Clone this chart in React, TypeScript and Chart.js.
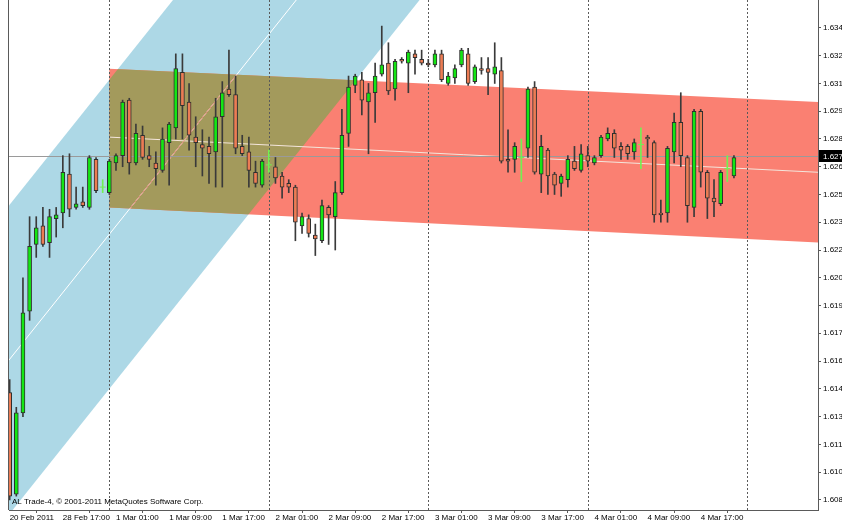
import React, { useEffect, useRef } from 'react';
import { Chart, registerables } from 'chart.js';
Chart.register(...registerables);

// Hourly GBP bars (H1), index 0 = first visible bar
const opens = [
  1.6143, 1.6088, 1.6132, 1.6187, 1.6223, 1.6233, 1.6224, 1.6237, 1.6240, 1.6261,
  1.6243, 1.6246, 1.6243, 1.6269, 1.6254, 1.6251, 1.6267, 1.6271, 1.6301, 1.6267,
  1.6282, 1.6271, 1.6267, 1.6263, 1.6278, 1.6286, 1.6316, 1.6300, 1.6281, 1.6277,
  1.6276, 1.6273, 1.6292, 1.6307, 1.6304, 1.6276, 1.6273, 1.6262, 1.6255, 1.6266,
  1.6265, 1.6260, 1.6256, 1.6254, 1.6233, 1.6237, 1.6228, 1.6225, 1.6243, 1.6238,
  1.6251, 1.6283, 1.6309, 1.6312, 1.6300, 1.6305, 1.6315, 1.6321, 1.6307, 1.6323,
  1.6321, 1.6326, 1.6323, 1.6321, 1.6320, 1.6326, 1.6310, 1.6313, 1.6320, 1.6326,
  1.6311, 1.6318, 1.6318, 1.6315, 1.6317, 1.6269, 1.6269, 1.6270, 1.6275, 1.6308,
  1.6261, 1.6274, 1.6261, 1.6256, 1.6258, 1.6268, 1.6263, 1.6271, 1.6267, 1.6271,
  1.6280, 1.6283, 1.6276, 1.6276, 1.6273, 1.6277, 1.6281, 1.6278, 1.6240, 1.6240,
  1.6273, 1.6289, 1.6270, 1.6243, 1.6295, 1.6262, 1.6248, 1.6245, 1.6264, 1.6260,
];
const highs = [
  1.6150, 1.6135, 1.6205, 1.6238, 1.6238, 1.6243, 1.6242, 1.6243, 1.6271, 1.6272,
  1.6254, 1.6254, 1.6271, 1.6270, 1.6258, 1.6269, 1.6272, 1.6301, 1.6302, 1.6288,
  1.6287, 1.6276, 1.6273, 1.6286, 1.6289, 1.6326, 1.6326, 1.6310, 1.6292, 1.6285,
  1.6281, 1.6302, 1.6311, 1.6328, 1.6314, 1.6282, 1.6281, 1.6268, 1.6269, 1.6274,
  1.6270, 1.6262, 1.6258, 1.6255, 1.6240, 1.6239, 1.6234, 1.6247, 1.6244, 1.6257,
  1.6296, 1.6314, 1.6315, 1.6316, 1.6310, 1.6321, 1.6341, 1.6332, 1.6323, 1.6324,
  1.6328, 1.6328, 1.6328, 1.6323, 1.6328, 1.6328, 1.6316, 1.6320, 1.6329, 1.6329,
  1.6320, 1.6324, 1.6324, 1.6332, 1.6324, 1.6285, 1.6278, 1.6280, 1.6308, 1.6311,
  1.6282, 1.6275, 1.6262, 1.6261, 1.6271, 1.6276, 1.6277, 1.6276, 1.6271, 1.6282,
  1.6286, 1.6285, 1.6278, 1.6277, 1.6280, 1.6286, 1.6282, 1.6279, 1.6247, 1.6276,
  1.6294, 1.6305, 1.6271, 1.6296, 1.6296, 1.6263, 1.6258, 1.6263, 1.6271, 1.6271,
];
const lows = [
  1.6085, 1.6087, 1.6130, 1.6182, 1.6216, 1.6222, 1.6216, 1.6227, 1.6232, 1.6238,
  1.6242, 1.6243, 1.6242, 1.6251, 1.6251, 1.6250, 1.6263, 1.6265, 1.6261, 1.6266,
  1.6269, 1.6265, 1.6255, 1.6262, 1.6255, 1.6280, 1.6280, 1.6274, 1.6265, 1.6260,
  1.6256, 1.6254, 1.6254, 1.6303, 1.6272, 1.6271, 1.6254, 1.6254, 1.6254, 1.6262,
  1.6256, 1.6248, 1.6251, 1.6225, 1.6229, 1.6227, 1.6217, 1.6224, 1.6223, 1.6220,
  1.6250, 1.6276, 1.6305, 1.6293, 1.6272, 1.6289, 1.6314, 1.6304, 1.6301, 1.6321,
  1.6305, 1.6315, 1.6320, 1.6319, 1.6319, 1.6311, 1.6309, 1.6310, 1.6319, 1.6309,
  1.6310, 1.6315, 1.6304, 1.6310, 1.6267, 1.6262, 1.6262, 1.6257, 1.6270, 1.6261,
  1.6251, 1.6250, 1.6250, 1.6249, 1.6254, 1.6263, 1.6262, 1.6265, 1.6266, 1.6270,
  1.6279, 1.6270, 1.6269, 1.6269, 1.6269, 1.6264, 1.6270, 1.6235, 1.6235, 1.6235,
  1.6267, 1.6265, 1.6235, 1.6238, 1.6254, 1.6237, 1.6238, 1.6244, 1.6257, 1.6259,
];
const closes = [
  1.6087, 1.6132, 1.6186, 1.6222, 1.6232, 1.6223, 1.6238, 1.6239, 1.6262, 1.6242,
  1.6245, 1.6244, 1.6270, 1.6252, 1.6254, 1.6268, 1.6271, 1.6300, 1.6267, 1.6283,
  1.6270, 1.6269, 1.6264, 1.6280, 1.6288, 1.6318, 1.6298, 1.6282, 1.6278, 1.6275,
  1.6272, 1.6292, 1.6305, 1.6304, 1.6275, 1.6272, 1.6263, 1.6256, 1.6268, 1.6266,
  1.6259, 1.6254, 1.6254, 1.6235, 1.6238, 1.6229, 1.6226, 1.6244, 1.6239, 1.6251,
  1.6282, 1.6308, 1.6314, 1.6301, 1.6305, 1.6314, 1.6320, 1.6306, 1.6322, 1.6322,
  1.6327, 1.6324, 1.6321, 1.6320, 1.6326, 1.6312, 1.6314, 1.6318, 1.6328, 1.6310,
  1.6319, 1.6317, 1.6316, 1.6319, 1.6268, 1.6268, 1.6276, 1.6270, 1.6307, 1.6262,
  1.6276, 1.6260, 1.6255, 1.6260, 1.6269, 1.6264, 1.6272, 1.6268, 1.6270, 1.6281,
  1.6283, 1.6275, 1.6274, 1.6272, 1.6278, 1.6277, 1.6280, 1.6239, 1.6239, 1.6275,
  1.6289, 1.6271, 1.6244, 1.6295, 1.6262, 1.6248, 1.6246, 1.6262, 1.6264, 1.6270,
];

const timeTickBars = [0, 8, 16, 24, 32, 40, 48, 56, 64, 72, 80, 88, 96, 104];
const timeTickLabels = [
  '20 Feb 2011', '28 Feb 17:00', '1 Mar 01:00', '1 Mar 09:00', '1 Mar 17:00',
  '2 Mar 01:00', '2 Mar 09:00', '2 Mar 17:00', '3 Mar 01:00', '3 Mar 09:00',
  '3 Mar 17:00', '4 Mar 01:00', '4 Mar 09:00', '4 Mar 17:00',
];
const dayStartBars = [15, 39, 63, 87, 111];
const priceTicks = [
  1.6085, 1.61, 1.6115, 1.613, 1.6145, 1.616, 1.6175, 1.619, 1.6205,
  1.622, 1.6235, 1.625, 1.6265, 1.628, 1.6295, 1.631, 1.6325, 1.634,
];
const currentPrice = 1.6271;

// Regression channels (bar index, price)
const blueChannelBars = [-1, 65];
const blueUpper = [1.624, 1.6537];
const blueMiddle = [1.61565, 1.64535];
const blueLower = [1.6073, 1.637];
const redChannelBars = [15, 121.7];
const redUpper = [1.6318, 1.63];
const redMiddle = [1.6281, 1.6262];
const redLower = [1.6243, 1.6224];

const copyrightText = 'AL Trade-4, \u00A9 2001-2011 MetaQuotes Software Corp.';

const W = 842;
const H = 523;
const BULL = '#14E614';
const BEAR = '#EC7C54';
const DOJI = '#72F052';
const OUTLINE = '#2E2E2E';
const WICK = '#3A3A3A';
const FONT = "'Liberation Sans', Arial, sans-serif";
const zeroPad = () => ({ left: 0, top: 0, right: 0, bottom: 0 });

const mtPlugin = {
  id: 'mtDecor',
  beforeDatasetsDraw(chart: any) {
    const { ctx, chartArea: a, scales } = chart;
    const x = scales.x;
    const y = scales.y;
    const px = (v: number) => x.getPixelForValue(v);
    const py = (v: number) => y.getPixelForValue(v);
    ctx.save();
    ctx.beginPath();
    ctx.rect(a.left, a.top, a.right - a.left, a.bottom - a.top);
    ctx.clip();

    const poly = (bars: number[], up: number[], lo: number[]) => {
      const p = new Path2D();
      p.moveTo(px(bars[0]), py(up[0]));
      p.lineTo(px(bars[1]), py(up[1]));
      p.lineTo(px(bars[1]), py(lo[1]));
      p.lineTo(px(bars[0]), py(lo[0]));
      p.closePath();
      return p;
    };
    const bluePath = poly(blueChannelBars, blueUpper, blueLower);
    const redPath = poly(redChannelBars, redUpper, redLower);
    ctx.fillStyle = '#ADD8E6';
    ctx.fill(bluePath);
    ctx.fillStyle = '#FA8072';
    ctx.fill(redPath);
    ctx.save();
    ctx.clip(bluePath);
    ctx.fillStyle = '#A39A5C';
    ctx.fill(redPath);
    ctx.restore();

    const midLine = (bars: number[], mid: number[], color: string) => {
      ctx.beginPath();
      ctx.moveTo(px(bars[0]), py(mid[0]));
      ctx.lineTo(px(bars[1]), py(mid[1]));
      ctx.strokeStyle = color;
      ctx.lineWidth = 1;
      ctx.stroke();
    };
    midLine(blueChannelBars, blueMiddle, '#FFFFFF');
    midLine(redChannelBars, redMiddle, '#F4E6DC');
    ctx.save();
    ctx.clip(redPath);
    midLine(blueChannelBars, blueMiddle, '#E08A78');
    ctx.restore();

    ctx.setLineDash([2, 2]);
    ctx.strokeStyle = '#5A5A5A';
    ctx.lineWidth = 1;
    dayStartBars.forEach((b) => {
      const xx = Math.round(px(b)) + 0.5;
      ctx.beginPath();
      ctx.moveTo(xx, a.top);
      ctx.lineTo(xx, a.bottom);
      ctx.stroke();
    });
    ctx.setLineDash([]);

    const cy = Math.round(py(currentPrice)) + 0.5;
    ctx.strokeStyle = '#9A9A9A';
    ctx.beginPath();
    ctx.moveTo(a.left, cy);
    ctx.lineTo(a.right, cy);
    ctx.stroke();
    ctx.restore();
  },
  afterDraw(chart: any) {
    const { ctx, chartArea: a, scales } = chart;
    const y = scales.y;
    ctx.save();
    ctx.strokeStyle = '#5A5A5A';
    ctx.lineWidth = 1;
    ctx.beginPath();
    ctx.moveTo(a.left - 0.5, a.top);
    ctx.lineTo(a.left - 0.5, a.bottom);
    ctx.stroke();
    ctx.fillStyle = '#000';
    ctx.font = `8px ${FONT}`;
    ctx.textBaseline = 'middle';
    ctx.textAlign = 'left';
    ctx.fillText(copyrightText, a.left + 3, a.bottom - 8);
    const cy = Math.round(y.getPixelForValue(currentPrice));
    ctx.fillStyle = '#000';
    ctx.fillRect(a.right + 1, cy - 6, 30, 12);
    ctx.fillStyle = '#FFF';
    ctx.fillText(currentPrice.toFixed(4), a.right + 5, cy + 0.5);
    ctx.restore();
  },
};

export default function App() {
  const ref = useRef<HTMLCanvasElement | null>(null);
  useEffect(() => {
    const canvas = ref.current;
    if (!canvas) return;
    const kinds = opens.map((o, i) => (closes[i] > o ? 'bull' : closes[i] < o ? 'bear' : 'doji'));
    const chart = new Chart(canvas, {
      type: 'bar',
      data: {
        datasets: [
          {
            type: 'bar',
            label: 'wicks',
            data: lows.map((l, i) => ({ x: i, y: [l, highs[i]] })) as any,
            backgroundColor: kinds.map((k) => (k === 'doji' ? DOJI : WICK)),
            borderWidth: 0,
            barThickness: 1,
            grouped: false,
            order: 3,
          },
          {
            type: 'bar',
            label: 'bodies',
            data: opens.map((o, i) => ({ x: i, y: kinds[i] === 'doji' ? null : [o, closes[i]] })) as any,
            backgroundColor: kinds.map((k) => (k === 'bull' ? BULL : BEAR)),
            borderColor: OUTLINE,
            borderWidth: 1,
            borderSkipped: false,
            barThickness: 4,
            grouped: false,
            order: 2,
          },
          {
            type: 'scatter',
            label: 'doji',
            data: opens
              .map((o, i) => ({ x: i, y: o }))
              .filter((_, i) => kinds[i] === 'doji') as any,
            pointStyle: 'line',
            pointRadius: 3,
            borderColor: DOJI,
            borderWidth: 1,
            order: 1,
          } as any,
        ],
      },
      options: {
        animation: false,
        responsive: false,
        maintainAspectRatio: false,
        devicePixelRatio: 1,
        events: [],
        layout: { autoPadding: false, padding: { left: 9, top: 0, right: 0, bottom: 0 } },
        plugins: { legend: { display: false }, tooltip: { enabled: false } },
        scales: {
          x: {
            type: 'linear',
            min: -0.1,
            max: 121.65,
            offset: false,
            position: 'bottom',
            afterFit: (s: any) => {
              s.height = 13;
              s.paddingLeft = 0;
              s.paddingRight = 0;
              s.getPadding = zeroPad;
            },
            afterBuildTicks: (s: any) => {
              s.ticks = timeTickBars.map((v) => ({ value: v }));
            },
            grid: { drawOnChartArea: false, drawTicks: true, tickLength: 3, color: '#5A5A5A' },
            border: { display: true, color: '#5A5A5A' },
            ticks: {
              autoSkip: false,
              maxRotation: 0,
              align: 'start',
              padding: 0,
              color: '#000',
              font: { family: FONT, size: 8 },
              callback: (_v: any, idx: number) => timeTickLabels[idx],
            },
          },
          y: {
            type: 'linear',
            position: 'right',
            min: 1.60795,
            max: 1.63551,
            afterFit: (s: any) => {
              s.width = 24;
              s.paddingTop = 0;
              s.paddingBottom = 0;
              s.getPadding = zeroPad;
            },
            afterBuildTicks: (s: any) => {
              s.ticks = priceTicks.map((v) => ({ value: v }));
            },
            grid: { drawOnChartArea: false, drawTicks: true, tickLength: 3, color: '#5A5A5A' },
            border: { display: true, color: '#5A5A5A' },
            ticks: {
              autoSkip: false,
              padding: 2,
              color: '#000',
              font: { family: FONT, size: 8 },
              callback: (v: any) => Number(v).toFixed(4),
            },
          },
        },
      } as any,
      plugins: [mtPlugin],
    });
    return () => chart.destroy();
  }, []);
  return (
    <div style={{ position: 'fixed', left: 0, top: 0, width: W, height: H, background: '#fff', overflow: 'hidden' }}>
      <canvas ref={ref} width={W} height={H} style={{ display: 'block', width: W, height: H }} />
    </div>
  );
}
